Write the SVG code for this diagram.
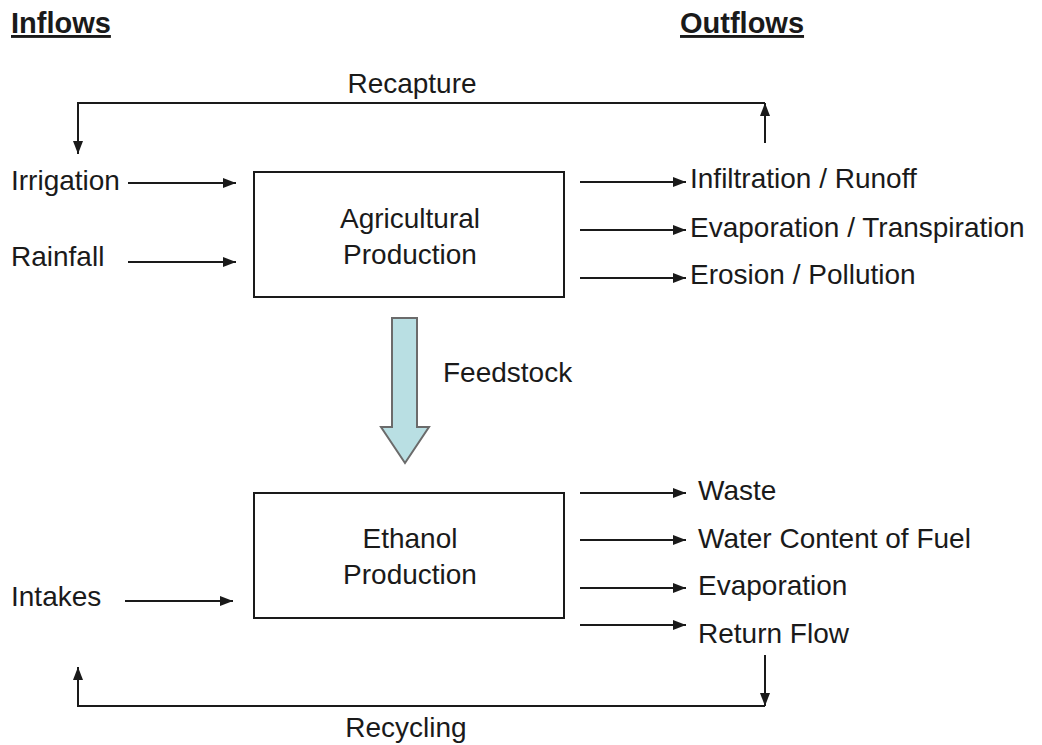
<svg xmlns="http://www.w3.org/2000/svg" width="1042" height="745" viewBox="0 0 1042 745">
<style>
  text { font-family: "Liberation Sans", Arial, sans-serif; font-size: 28px; fill: #1a1a1a; }
  .head { font-weight: bold; font-size: 29px; text-decoration: underline; }
  .box { fill: #ffffff; stroke: #1a1a1a; stroke-width: 2; }
  .ln { fill: none; stroke: #1a1a1a; stroke-width: 2; }
  .arr { marker-end: url(#ah); }
</style>
<defs>
  <marker id="ah" markerUnits="userSpaceOnUse" markerWidth="14" markerHeight="12" refX="13" refY="6" orient="auto">
    <path d="M0,1 L13,6 L0,11 Z" fill="#1a1a1a"/>
  </marker>
</defs>
<rect width="1042" height="745" fill="#ffffff"/>

<g id="headings">
  <text class="head" x="11" y="33">Inflows</text>
  <text class="head" x="680" y="33">Outflows</text>
</g>

<g id="node-agri">
  <rect class="box" x="254" y="172" width="310" height="125"/>
  <text x="410" y="228" text-anchor="middle">Agricultural</text>
  <text x="410" y="264" text-anchor="middle">Production</text>
</g>

<g id="node-ethanol">
  <rect class="box" x="254" y="493" width="310" height="125"/>
  <text x="410" y="548" text-anchor="middle">Ethanol</text>
  <text x="410" y="584" text-anchor="middle">Production</text>
</g>

<g id="feedstock">
  <path d="M392,318 L417,318 L417,427 L429,427 L405,463 L381,427 L392,427 Z" fill="#b9dfe3" stroke="#6b6b6b" stroke-width="2"/>
  <text x="443" y="382">Feedstock</text>
</g>

<g id="labels-in">
  <text x="11" y="190">Irrigation</text>
  <text x="11" y="266">Rainfall</text>
  <text x="11" y="606">Intakes</text>
</g>

<g id="labels-out">
  <text x="690" y="188">Infiltration / Runoff</text>
  <text x="690" y="237">Evaporation / Transpiration</text>
  <text x="690" y="284">Erosion / Pollution</text>
  <text x="698" y="500">Waste</text>
  <text x="698" y="548">Water Content of Fuel</text>
  <text x="698" y="595">Evaporation</text>
  <text x="698" y="643">Return Flow</text>
  <text x="412" y="93" text-anchor="middle">Recapture</text>
  <text x="406" y="737" text-anchor="middle">Recycling</text>
</g>

<g id="connectors">
  <line class="ln arr" x1="128" y1="183" x2="236" y2="183"/>
  <line class="ln arr" x1="128" y1="262" x2="236" y2="262"/>
  <line class="ln arr" x1="125" y1="601" x2="233" y2="601"/>

  <line class="ln arr" x1="580" y1="182" x2="686" y2="182"/>
  <line class="ln arr" x1="580" y1="230" x2="686" y2="230"/>
  <line class="ln arr" x1="580" y1="278" x2="686" y2="278"/>

  <line class="ln arr" x1="580" y1="493" x2="686" y2="493"/>
  <line class="ln arr" x1="580" y1="540" x2="686" y2="540"/>
  <line class="ln arr" x1="580" y1="588" x2="686" y2="588"/>
  <line class="ln arr" x1="580" y1="625" x2="686" y2="625"/>

  <polyline class="ln arr" points="765,143 765,103"/>
  <polyline class="ln arr" points="765,103 78,103 78,154"/>

  <polyline class="ln arr" points="765,655 765,706"/>
  <polyline class="ln arr" points="765,706 78,706 78,667"/>
</g>
</svg>
